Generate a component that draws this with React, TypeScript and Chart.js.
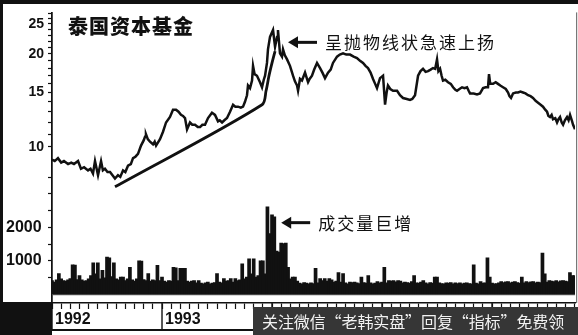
import { useEffect, useRef } from 'react';
import { Chart, registerables } from 'chart.js';

Chart.register(...registerables);

// Fund price, [months since Jan 1992, price]
const pricePoints: [number, number][] = [
  [0.0, 9.1], [0.3, 9.0], [0.65, 9.2], [1.0, 8.9], [1.3, 9.0], [1.75, 8.8], [2.1, 8.9], [2.4, 8.8],
  [2.84, 9.0], [3.16, 8.5], [3.5, 8.6], [3.93, 8.4], [4.2, 8.5], [4.47, 8.2], [4.69, 9.0], [5.02, 8.1],
  [5.35, 9.0], [5.55, 8.4], [5.78, 8.5], [6.05, 8.3], [6.33, 8.3], [6.6, 8.1], [6.87, 7.9], [7.2, 8.1],
  [7.45, 8.0], [7.75, 8.4], [8.0, 8.3], [8.29, 8.7], [8.6, 8.8], [8.84, 9.2], [9.1, 9.3], [9.38, 9.5],
  [9.71, 10.1], [10.0, 10.5], [10.15, 10.8], [10.25, 11.0], [10.45, 10.6], [10.69, 10.4], [11.02, 10.2], [11.2, 10.4],
  [11.35, 10.1], [11.78, 10.6], [12.11, 11.2], [12.44, 12.0], [12.87, 12.5], [13.2, 13.2], [13.53, 13.2], [13.8, 13.0],
  [14.07, 12.7], [14.29, 12.6], [14.51, 12.4], [14.73, 11.4], [15.05, 12.0], [15.3, 11.8], [15.6, 11.8], [15.9, 11.6],
  [16.15, 11.6], [16.4, 11.8], [16.69, 11.8], [17.02, 12.4], [17.45, 12.9], [17.78, 12.7], [18.11, 12.1], [18.3, 12.2],
  [18.55, 12.0], [18.8, 12.2], [19.09, 12.4], [19.42, 13.0], [19.75, 13.7], [20.0, 13.5], [20.29, 13.5], [20.6, 13.4],
  [20.84, 13.5], [21.05, 14.0], [21.27, 14.7], [21.38, 15.8], [21.6, 15.5], [21.82, 16.4], [21.93, 18.3], [22.1, 17.2],
  [22.36, 17.0], [22.69, 16.2], [22.91, 15.6], [23.1, 16.5], [23.24, 17.0], [23.45, 18.7], [23.56, 20.7], [23.78, 22.7],
  [24.0, 23.5], [24.11, 23.9], [24.33, 21.1], [24.55, 22.7], [24.65, 23.9], [24.87, 20.1], [25.09, 19.6], [25.2, 20.7],
  [25.4, 19.8], [25.64, 19.2], [25.96, 18.3], [26.29, 17.0], [26.5, 16.3], [26.73, 15.8], [26.84, 15.2], [27.05, 16.6],
  [27.27, 16.4], [27.6, 17.4], [27.93, 16.2], [28.1, 16.6], [28.36, 17.0], [28.6, 17.8], [28.91, 18.7], [29.24, 18.0],
  [29.5, 17.4], [29.78, 16.7], [30.11, 17.4], [30.4, 17.8], [30.65, 18.7], [31.09, 19.6], [31.4, 19.9], [31.75, 20.1],
  [32.1, 19.9], [32.51, 19.9], [32.9, 19.6], [33.27, 19.4], [33.6, 19.0], [33.93, 18.7], [34.2, 18.3], [34.47, 18.0],
  [34.75, 17.4], [35.02, 16.6], [35.25, 16.0], [35.45, 15.5], [35.78, 16.7], [36.11, 17.0], [36.33, 13.7], [36.5, 15.0],
  [36.65, 15.8], [36.9, 15.4], [37.2, 15.2], [37.64, 15.2], [37.96, 14.7], [38.29, 14.4], [38.7, 14.3], [39.05, 14.2],
  [39.3, 14.3], [39.6, 14.7], [39.93, 17.0], [40.2, 17.6], [40.47, 17.9], [40.75, 17.5], [41.02, 17.6], [41.3, 17.8],
  [41.56, 18.0], [41.8, 17.9], [42.0, 19.2], [42.15, 17.6], [42.33, 17.9], [42.5, 17.0], [42.65, 16.4], [42.9, 16.5],
  [43.2, 16.2], [43.5, 16.0], [43.75, 15.6], [44.0, 15.3], [44.18, 15.2], [44.45, 15.4], [44.73, 15.6], [45.0, 15.5],
  [45.27, 15.6], [45.45, 15.2], [45.6, 14.9], [46.0, 14.9], [46.36, 14.8], [46.69, 14.9], [47.02, 15.5], [47.3, 15.6],
  [47.56, 15.6], [47.67, 17.2], [47.8, 16.0], [48.11, 16.0], [48.4, 16.2], [48.65, 16.0], [48.9, 15.8], [49.2, 15.6],
  [49.5, 15.4], [49.75, 15.0], [49.9, 14.6], [50.07, 14.4], [50.29, 14.9], [50.6, 15.0], [50.84, 15.0], [51.1, 15.1],
  [51.38, 15.0], [51.65, 14.9], [51.93, 14.7], [52.2, 14.6], [52.47, 14.4], [52.75, 14.1], [53.02, 13.9], [53.3, 13.7],
  [53.56, 13.5], [53.8, 13.2], [54.0, 13.0], [54.15, 12.6], [54.33, 12.5], [54.5, 12.7], [54.65, 12.3], [54.9, 12.4],
  [55.09, 12.0], [55.25, 12.3], [55.42, 12.5], [55.6, 12.0], [55.75, 11.8], [55.95, 12.2], [56.18, 12.5], [56.35, 12.2],
  [56.51, 12.7], [56.7, 12.2], [56.84, 11.8], [57.05, 11.4],
];

// Weekly traded volume, one bar every quarter month from Jan 1992
const volumeStep = 0.25;
const volumeValues = [
  400, 350, 420, 610, 450, 400, 380, 420, 460, 870, 860, 430,
  550, 420, 380, 400, 450, 550, 930, 600, 930, 450, 700, 480,
  1100, 1080, 520, 930, 450, 420, 500, 500, 400, 450, 790, 420,
  380, 450, 990, 980, 430, 400, 610, 380, 420, 400, 850, 400,
  500, 380, 350, 400, 380, 790, 780, 400, 760, 760, 760, 380,
  350, 380, 400, 330, 400, 320, 300, 330, 350, 300, 320, 340,
  610, 350, 330, 460, 380, 400, 460, 350, 460, 400, 420, 900,
  450, 500, 1050, 600, 1050, 500, 550, 990, 990, 600, 2600, 1800,
  2360, 2300, 1280, 1250, 1520, 1500, 1520, 790, 450, 500, 500, 380,
  320, 300, 340, 320, 300, 330, 310, 760, 330, 460, 400, 460,
  380, 460, 420, 350, 380, 640, 350, 610, 330, 300, 355, 340,
  355, 330, 310, 500, 340, 320, 550, 330, 300, 320, 365, 330,
  350, 790, 330, 400, 380, 400, 360, 400, 380, 330, 350, 340,
  320, 370, 550, 330, 320, 350, 400, 330, 300, 340, 320, 500,
  500, 330, 310, 300, 330, 320, 340, 300, 330, 310, 330, 300,
  320, 330, 310, 300, 870, 320, 300, 370, 320, 330, 1080, 500,
  320, 300, 310, 330, 370, 340, 360, 370, 330, 350, 370, 340,
  320, 500, 330, 370, 340, 360, 370, 330, 350, 340, 1220, 600,
  350, 400, 380, 370, 400, 360, 390, 400, 380, 370, 640, 550,
  550,
];

// Rising support line that bends into the parabolic run-up
const trendPoints: [number, number][] = [
  [6.87, 7.43], [22.91, 13.7], [23.35, 15.2], [23.67, 17.0], [24.0, 18.7], [24.33, 20.4],
];

const priceTicks = [10, 11, 12, 13, 14, 15, 16, 17, 18, 19, 20, 21, 22, 23, 24, 25, 26, 27];
const priceTickLabels = [10, 15, 20, 25];
const volumeTicks = [500, 1000, 1500, 2000, 2500, 3000, 3500];
const volumeTickLabels = [1000, 2000];
const firstYear = 1992;
const monthCount = 57;

const titleText = '泰国资本基金';
const priceNote = '呈抛物线状急速上扬';
const volumeNote = '成交量巨增';
const bannerText = '关注微信“老韩实盘”回复“指标”免费领';

const INK = '#111111';
const CJK = '"Noto Sans CJK SC", "Noto Sans", sans-serif';

function spacedText(ctx: CanvasRenderingContext2D, text: string, x: number, y: number, step: number) {
  Array.from(text).forEach((ch, i) => ctx.fillText(ch, x + i * step, y));
}

function leftArrow(ctx: CanvasRenderingContext2D, head: number, tail: number, y: number) {
  ctx.strokeStyle = INK;
  ctx.lineWidth = 3;
  ctx.beginPath();
  ctx.moveTo(head + 6, y);
  ctx.lineTo(tail, y);
  ctx.stroke();
  ctx.beginPath();
  ctx.moveTo(head, y);
  ctx.lineTo(head + 10, y - 6);
  ctx.lineTo(head + 10, y + 6);
  ctx.closePath();
  ctx.fill();
}

const frame = {
  id: 'frame',
  beforeDraw(chart: any) {
    const { ctx, width, height } = chart;
    ctx.save();
    ctx.fillStyle = '#ffffff';
    ctx.fillRect(0, 0, width, height);
    ctx.restore();
  },
  afterDraw(chart: any) {
    const { ctx, width, height } = chart;
    const { left, right, top, bottom } = chart.chartArea;
    const xs = chart.scales.x;
    const vol = chart.scales.volume;
    const price = chart.scales.price;
    ctx.save();

    // borders
    ctx.fillStyle = INK;
    ctx.fillRect(0, 0, width, 4);
    ctx.fillRect(0, 0, 3, bottom);
    ctx.fillRect(0, bottom - 1, left, height - bottom + 1);
    ctx.fillStyle = '#777';
    ctx.fillRect(right + 1, top, 1.2, bottom - top);

    // volume base line
    ctx.fillStyle = '#555';
    ctx.fillRect(left, vol.getPixelForValue(0), right - left, 1);

    // year dividers and bottom rule of the date strip
    ctx.fillStyle = INK;
    for (let m = 0; m <= monthCount; m += 12) {
      const px = xs.getPixelForValue(m);
      ctx.fillRect(px - 0.7, bottom, 1.4, height - bottom - 4);
    }
    ctx.fillRect(left, height - 6, 253 - left, 2);

    // banner along the bottom right
    ctx.fillStyle = '#363636';
    ctx.fillRect(253, bottom + 4, width - 253, height - bottom - 4);
    ctx.fillStyle = '#f2f2f2';
    ctx.font = `16px ${CJK}`;
    ctx.textBaseline = 'middle';
    ctx.textAlign = 'left';
    spacedText(ctx, bannerText, 262, 322, 15.9);

    // title
    ctx.fillStyle = INK;
    ctx.font = `900 20px ${CJK}`;
    spacedText(ctx, titleText, 68, 26, 21);

    // notes with arrows
    const peakX = xs.getPixelForValue(25.2);
    const peakY = price.getPixelForValue(21.8);
    leftArrow(ctx, peakX + 5, peakX + 34, peakY);
    ctx.font = `17px ${CJK}`;
    spacedText(ctx, priceNote, peakX + 42, peakY, 19);

    const volX = xs.getPixelForValue(25.0);
    const volY = vol.getPixelForValue(2140);
    leftArrow(ctx, volX, volX + 29, volY);
    spacedText(ctx, volumeNote, volX + 37, volY + 1, 19);

    ctx.restore();
  },
};

export default function App() {
  const canvasRef = useRef<HTMLCanvasElement | null>(null);

  useEffect(() => {
    document.body.style.margin = '0';
    const canvas = canvasRef.current;
    if (!canvas) return;

    const chart = new Chart(canvas, {
      type: 'bar',
      data: {
        datasets: [
          {
            type: 'line',
            data: pricePoints.map(([m, p]) => ({ x: m, y: p })),
            xAxisID: 'x',
            yAxisID: 'price',
            borderColor: INK,
            borderWidth: 2.5,
            pointRadius: 0,
            tension: 0,
            order: 0,
          } as any,
          {
            type: 'line',
            data: trendPoints.map(([m, p]) => ({ x: m, y: p })),
            xAxisID: 'x',
            yAxisID: 'price',
            borderColor: INK,
            borderWidth: 2.8,
            pointRadius: 0,
            tension: 0.3,
            order: 1,
          } as any,
          {
            type: 'bar',
            data: volumeValues.map((v, i) => ({ x: i * volumeStep, y: v })),
            xAxisID: 'x',
            yAxisID: 'volume',
            backgroundColor: INK,
            borderWidth: 0,
            barPercentage: 1,
            categoryPercentage: 1,
            inflateAmount: 0.7,
            order: 2,
          } as any,
        ],
      },
      options: {
        responsive: false,
        devicePixelRatio: 1,
        animation: false,
        events: [],
        layout: { padding: { top: 5, right: 3, left: 0, bottom: 0 } },
        plugins: { legend: { display: false }, tooltip: { enabled: false } },
        scales: {
          x: {
            type: 'linear',
            min: 0,
            max: 57.05,
            offset: false,
            afterBuildTicks: (s: any) => {
              const t = [];
              for (let m = 0; m <= monthCount; m++) t.push({ value: m });
              s.ticks = t;
            },
            afterFit: (s: any) => {
              s.height = 32;
            },
            grid: { drawOnChartArea: false, offset: false, tickLength: 6, color: INK, tickWidth: 1.2 },
            border: { display: true, color: INK, width: 1.5 },
            ticks: {
              autoSkip: false,
              maxRotation: 0,
              align: 'start',
              labelOffset: 3,
              padding: 1,
              color: INK,
              font: { family: 'Liberation Sans', size: 16, weight: 'bold' },
              callback: (v: any) => (Number(v) % 12 === 0 ? String(firstYear + Number(v) / 12) : ''),
            },
          },
          price: {
            type: 'logarithmic',
            position: 'left',
            weight: 1,
            min: 3.127,
            max: 27.25,
            afterBuildTicks: (s: any) => {
              s.ticks = priceTicks.map((v) => ({ value: v }));
            },
            afterFit: (s: any) => {
              s.width = 52;
            },
            grid: { drawOnChartArea: false, tickLength: 4, color: INK, tickWidth: 1.2 },
            border: { display: true, color: INK, width: 1.5 },
            ticks: {
              autoSkip: false,
              padding: 4,
              color: INK,
              font: { family: 'Liberation Sans', size: 14, weight: 'bold' },
              callback: (v: any) => (priceTickLabels.includes(Number(v)) ? String(v) : ''),
            },
          },
          volume: {
            type: 'linear',
            position: 'left',
            weight: 0,
            min: -262,
            max: 8426,
            afterBuildTicks: (s: any) => {
              s.ticks = volumeTicks.map((v) => ({ value: v }));
            },
            afterFit: (s: any) => {
              s.width = 0;
            },
            grid: { drawOnChartArea: false, tickLength: 4, color: INK, tickWidth: 1.2 },
            border: { display: true, color: INK, width: 1.5 },
            ticks: {
              autoSkip: false,
              mirror: true,
              crossAlign: 'near',
              padding: -46,
              color: INK,
              font: { family: 'Liberation Sans', size: 16, weight: 'bold' },
              callback: (v: any) => (volumeTickLabels.includes(Number(v)) ? String(v) : ''),
            },
          },
        },
      } as any,
      plugins: [frame],
    });

    return () => chart.destroy();
  }, []);

  return (
    <div style={{ width: 578, height: 335 }}>
      <canvas ref={canvasRef} width={578} height={335} style={{ display: 'block' }} />
    </div>
  );
}
